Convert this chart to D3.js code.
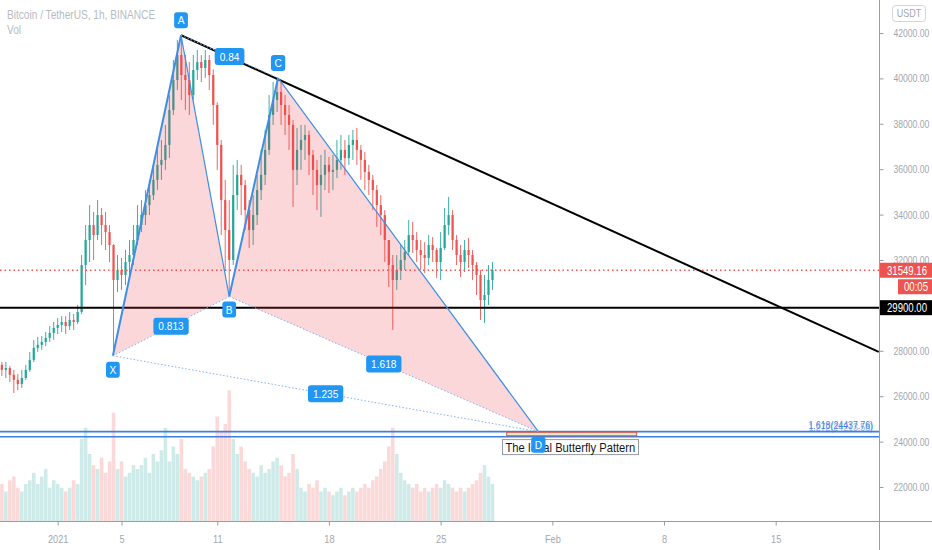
<!DOCTYPE html>
<html><head><meta charset="utf-8">
<script src="https://cdn.jsdelivr.net/npm/d3@7/dist/d3.min.js"></script>
<style>html,body{margin:0;padding:0;background:#fff;overflow:hidden}</style>
</head><body><svg id="c" width="932" height="550"></svg>
<script>
// ---------- DATA ----------
const title = "Bitcoin / TetherUS, 1h, BINANCE";
const volLabel = "Vol";
const firstCandle = "2020-12-28T06:00:00Z";
const candleHours = 6;
const candleOpen = [27510,27380,27160,27240,26940,26720,26540,26800,27160,27600,
28130,28260,28390,28570,28790,29010,29140,29270,29090,29360,
29270,29710,31780,32880,33540,33100,33980,33540,33230,32660,
31120,31560,31340,31910,32220,32880,33540,33980,34420,34860,
35530,36190,36410,37070,38610,39930,41030,40150,39930,39270,
40370,40720,40460,40810,40150,38830,37070,34640,33320,32000,
34860,35750,35300,34200,33320,33980,35080,35750,36850,38390,
39050,39400,38830,38390,37950,35970,36850,37290,37510,36630,
35970,35300,35750,36190,35880,35970,36410,36850,36490,37070,
37290,36850,36410,35880,35530,35080,34420,33980,32880,31780,
31120,31560,32000,32350,33100,32880,32440,32220,32090,32660,
32440,31910,32530,33540,33980,32880,32220,31910,32440,32220,
31780,31340,30240,30460,31120];
const candleHigh = [27600,27510,27510,27330,27160,26980,27160,27380,27950,28480,
28610,28650,28830,29090,29270,29450,29530,29530,29710,29620,
30020,32220,33540,34420,34120,34640,34290,34120,33540,32700,
32220,32090,32440,32880,33540,34420,34640,35080,35530,36190,
37070,37290,37950,39270,40810,41690,41900,41030,40720,41030,
41250,41030,41250,41030,40400,38950,37290,35530,34640,36190,
36410,36190,35530,34640,34860,35750,36850,37730,39270,39840,
40020,39840,39270,38830,38170,37820,37950,37950,37700,36850,
36410,36630,36850,36540,36630,37290,37510,37290,37510,37730,
37820,37070,36760,36190,35750,35300,34860,34200,32880,32220,
32220,32660,32880,33760,33680,33230,32880,32790,33100,33010,
32530,33230,34290,34780,34200,33100,32660,32880,32970,32440,
31910,31560,31340,31780,31910];
const candleLow = [27070,26890,26800,26630,26140,26270,26360,26720,27070,27510,
27950,28040,28210,28390,28480,28740,28830,28740,28920,28920,
29180,29620,30900,31910,32000,32880,32660,32440,31910,27780,
30590,30680,30900,31340,31780,32660,33230,33540,33980,34640,
35080,35530,35970,36490,38390,39490,39050,38610,38390,39050,
39930,39840,40020,39490,37950,35970,33100,31560,30390,31780,
34200,33980,33320,32530,32660,33540,34640,35300,36630,37950,
38520,37950,37510,36850,34340,35300,35970,36410,35750,34860,
34200,33900,35080,34950,35080,35610,35970,35750,36190,36410,
36190,35530,35080,34860,34200,33460,33100,31910,30810,28920,
30680,31120,31560,32220,32310,31910,31560,31430,31780,31910,
31210,31120,32440,33100,32440,31780,31250,31470,31650,31120,
30460,29360,29230,30020,30680];
const candleClose = [27380,27160,27240,26940,26720,26540,26800,27160,27600,28130,
28260,28390,28570,28790,29010,29140,29270,29090,29360,29270,
29710,31780,32880,33540,33100,33980,33540,33230,32660,31120,
31560,31340,31910,32220,32880,33540,33980,34420,34860,35530,
36190,36410,37070,38610,39930,41030,40150,39930,39270,40370,
40720,40460,40810,40150,38830,37070,34640,33320,32000,34860,
35750,35300,34200,33320,33980,35080,35750,36850,38390,39050,
39400,38830,38390,37950,35970,36850,37290,37510,36630,35970,
35300,35750,36190,35880,35970,36410,36850,36490,37070,37290,
36850,36410,35880,35530,35080,34420,33980,32880,31780,31120,
31560,32000,32350,33100,32880,32440,32220,32090,32660,32440,
31910,32530,33540,33980,32880,32220,31910,32440,32220,31780,
31340,30240,30460,31120,31549.16];
const candleVolume = [9,10,8,11,12,9,8,10,
11,13,10,12,14,9,11,
10,9,8,9,11,10,
22,25,18,
15,14,17,13,16,
29,
14,16,12,13,15,
14,15,17,13,18,16,19,25,
16,20,18,22,
14,13,12,11,12,13,14,
20,28,24,26,
35,
22,18,20,16,
14,13,12,15,13,
14,16,17,15,
12,13,18,14,
9,8,10,9,11,8,9,8,7,8,9,7,8,9,
8,9,10,9,11,12,
14,16,20,25,18,
13,11,10,9,10,8,9,
8,9,10,9,11,10,9,
8,9,8,9,10,11,13,15,12,10];

const yTicks = [22000,24000,26000,28000,30000,32000,34000,36000,38000,40000,42000];
const yTicksShown = [22000,24000,26000,28000,32000,34000,36000,38000,40000,42000];
const xTickDates = ["2021-01-01","2021-01-05","2021-01-11","2021-01-18","2021-01-25","2021-02-01","2021-02-08","2021-02-15"];
const xTickLabels = ["2021","5","11","18","25","Feb","8","15"];

const lastPrice = 31549.16;
const lastPriceTimer = "00:05";
const hLevel = 29900;
const trendPoints = [["2021-01-08T17:30:00Z", 41900], ["2021-02-21T11:00:00Z", 27950]];

const patternNames = ["X","A","B","C","D"];
const patternTimes = ["2021-01-04T11:00:00Z","2021-01-08T17:30:00Z","2021-01-11T18:00:00Z","2021-01-14T19:30:00Z","2021-01-31T03:00:00Z"];
const patternPrices = [27780, 41900, 30390, 40020, 24437.76];
const ratioLegs = [[0,2,"0.813"],[1,3,"0.84"],[2,4,"1.618"],[0,4,"1.235"]];

const fibPrices = [24437.76, 24213.58];
const fibLabels = ["1.618(24437.76)", "1.272(24213.58)"];

const boxTimes = ["2021-01-29T03:20:00Z", "2021-02-06T07:00:00Z"];
const boxPrices = [24410, 24260];
const noteText = "The Ideal Butterfly Pattern";
const noteTime = "2021-01-28T21:00:00Z";
const notePrice = 24000;

// ---------- SCALES ----------
const W = 932, H = 550, plotR = 879.5, plotB = 521.5;
const svg = d3.select("#c");
const x = d3.scaleUtc().domain([new Date("2021-01-01T00:00:00Z"), new Date("2021-02-15T00:00:00Z")]).range([57.7, 775.7]);
const y = d3.scaleLinear().domain([22000, 42000]).range([487, 33]);
const yv = d3.scaleLinear().domain([0, 40]).range([plotB, plotB - 150]);

const t0 = new Date(firstCandle).getTime();
const candles = candleOpen.map((o, i) => ({
  t: new Date(t0 + i * candleHours * 3600e3),
  o, h: candleHigh[i], l: candleLow[i], c: candleClose[i], v: candleVolume[i]
}));
const slot = x(new Date(t0 + candleHours * 3600e3)) - x(new Date(t0));

const FN = "'Liberation Sans',Arial,sans-serif";
// horizontally condense text around its anchor x (reference uses a narrow face)
function squeeze(sel, f) {
  sel.each(function () {
    const ax = +(this.getAttribute("x") || 0);
    d3.select(this).attr("transform", `translate(${ax * (1 - f)},0) scale(${f},1)`);
  });
  return sel;
}

svg.append("rect").attr("width", W).attr("height", H).attr("fill", "#fff");
svg.append("clipPath").attr("id", "plot").append("rect").attr("x", 0).attr("y", 0).attr("width", plotR).attr("height", plotB);
const g = svg.append("g").attr("clip-path", "url(#plot)");

const UP = "#26a69a", DN = "#ef5350";

// volume
g.append("g").selectAll("rect").data(candles).join("rect")
  .attr("x", d => x(d.t) - slot * 0.45)
  .attr("width", slot * 0.9)
  .attr("y", d => yv(d.v))
  .attr("height", d => yv(0) - yv(d.v))
  .attr("fill", d => d.c >= d.o ? UP : DN)
  .attr("opacity", 0.22);

// candles
const cg = g.append("g");
cg.selectAll("line").data(candles).join("line")
  .attr("x1", d => x(d.t)).attr("x2", d => x(d.t))
  .attr("y1", d => y(d.h)).attr("y2", d => y(d.l))
  .attr("stroke", d => d.c >= d.o ? UP : DN).attr("stroke-width", 0.9);
cg.selectAll("rect").data(candles).join("rect")
  .attr("x", d => x(d.t) - slot * 0.28)
  .attr("width", slot * 0.56)
  .attr("y", d => y(Math.max(d.o, d.c)))
  .attr("height", d => Math.max(0.8, Math.abs(y(d.o) - y(d.c))))
  .attr("fill", d => d.c >= d.o ? UP : DN);

// last price dotted line
g.append("line").attr("x1", 0).attr("x2", plotR).attr("y1", y(lastPrice)).attr("y2", y(lastPrice))
  .attr("stroke", DN).attr("stroke-width", 1.5).attr("stroke-dasharray", "1.5,3");

// horizontal level and trendline
g.append("line").attr("x1", 0).attr("x2", plotR).attr("y1", y(hLevel)).attr("y2", y(hLevel))
  .attr("stroke", "#000").attr("stroke-width", 2);
g.append("line")
  .attr("x1", x(new Date(trendPoints[0][0]))).attr("y1", y(trendPoints[0][1]))
  .attr("x2", x(new Date(trendPoints[1][0]))).attr("y2", y(trendPoints[1][1]))
  .attr("stroke", "#000").attr("stroke-width", 2);

// fib lines
const FIB = "#3f7fe0";
fibPrices.forEach(p => {
  g.append("line").attr("x1", 0).attr("x2", plotR).attr("y1", y(p)).attr("y2", y(p))
    .attr("stroke", FIB).attr("stroke-width", 1.6);
});
fibLabels.forEach((t, i) => {
  const tx = g.append("text").attr("x", 873).attr("y", y(fibPrices[0]) - 3 + i * 2.5)
    .attr("text-anchor", "end").attr("fill", FIB)
    .attr("font-family", FN).attr("font-size", 11)
    .attr("opacity", i === 0 ? 1 : 0.6)
    .text(t);
  squeeze(tx, 0.8);
});

// harmonic pattern
const P = patternTimes.map((t, i) => [x(new Date(t)), y(patternPrices[i])]);
const PFILL = "rgba(242,54,69,0.2)", PLINE = "#3d8fe6";
g.append("path").attr("d", d3.line()([P[0], P[1], P[2]]) + "Z").attr("fill", PFILL);
g.append("path").attr("d", d3.line()([P[2], P[3], P[4]]) + "Z").attr("fill", PFILL);
[[0,1,2],[1,2,1.2],[2,3,2],[3,4,1.2]].forEach(([a,b,w]) => {
  g.append("line").attr("x1", P[a][0]).attr("y1", P[a][1]).attr("x2", P[b][0]).attr("y2", P[b][1])
    .attr("stroke", PLINE).attr("stroke-width", w);
});
ratioLegs.forEach(([a,b]) => {
  g.append("line").attr("x1", P[a][0]).attr("y1", P[a][1]).attr("x2", P[b][0]).attr("y2", P[b][1])
    .attr("stroke", "#7fb3ee").attr("stroke-width", 1).attr("stroke-dasharray", "1.5,2");
});

// rectangle near D
g.append("rect")
  .attr("x", x(new Date(boxTimes[0]))).attr("y", y(boxPrices[0]))
  .attr("width", x(new Date(boxTimes[1])) - x(new Date(boxTimes[0])))
  .attr("height", y(boxPrices[1]) - y(boxPrices[0]))
  .attr("fill", "#e6ebc6").attr("stroke", "#d9534f").attr("stroke-width", 1);

// note box
const nx = x(new Date(noteTime)), ny = y(notePrice);
const ng = g.append("g");
const nt = ng.append("text").attr("x", nx + 3).attr("y", ny + 10.5)
  .attr("font-family", FN).attr("font-size", 13)
  .attr("fill", "#131722").text(noteText);
const nf = 130 / nt.node().getComputedTextLength();
squeeze(nt, nf);
ng.insert("rect", "text").attr("x", nx).attr("y", ny - 2).attr("width", 136).attr("height", 15)
  .attr("fill", "#fff").attr("stroke", "#9598a1").attr("stroke-width", 1);

// labels
const LBG = "#2196f3";
function tag(cx, cy, text, padX, h) {
  const tg = g.append("g");
  const t = tg.append("text").attr("x", cx).attr("y", cy + 4).attr("text-anchor", "middle")
    .attr("font-family", FN).attr("font-size", 11.5).attr("fill", "#fff").text(text);
  const bw = t.node().getComputedTextLength() * 0.88 + padX * 2;
  squeeze(t, 0.88);
  tg.insert("rect", "text").attr("x", cx - bw / 2).attr("y", cy - h / 2).attr("width", bw).attr("height", h)
    .attr("rx", 3).attr("fill", LBG);
}
ratioLegs.forEach(([a,b,t]) => tag((P[a][0] + P[b][0]) / 2, (P[a][1] + P[b][1]) / 2, t, 5, 17));
const labelOffsets = [14, -15, 13, -15, 13];
patternNames.forEach((n, i) => tag(P[i][0], P[i][1] + labelOffsets[i], n, 3.5, 16));

// ---------- AXES ----------
const AX = "#9a9ca3", TXT = "#a3a6af";
svg.append("line").attr("x1", plotR).attr("x2", plotR).attr("y1", 0).attr("y2", H).attr("stroke", AX);
svg.append("line").attr("x1", 0).attr("x2", W).attr("y1", plotB).attr("y2", plotB).attr("stroke", AX);

const ya = svg.append("g").attr("transform", `translate(${plotR},0)`)
  .call(d3.axisRight(y).tickValues(yTicks).tickSize(4).tickPadding(10).tickFormat(d => yTicksShown.includes(d) ? d.toFixed(2) : ""));
ya.select(".domain").remove();
ya.selectAll("line").attr("stroke", AX);
ya.selectAll("text").attr("fill", TXT).attr("font-family", FN).attr("font-size", 11);
squeeze(ya.selectAll("text"), 0.78);

const xa = svg.append("g").attr("transform", `translate(0,${plotB})`)
  .call(d3.axisBottom(x).tickValues(xTickDates.map(d => new Date(d + "T00:00:00Z"))).tickSize(4).tickPadding(9)
    .tickFormat((d, i) => xTickLabels[i]));
xa.select(".domain").remove();
xa.selectAll("line").attr("stroke", AX);
xa.selectAll("text").attr("fill", TXT).attr("font-family", FN).attr("font-size", 11.5);
squeeze(xa.selectAll("text"), 0.8);

// price tags on axis
function priceTag(yc, x0, text, bg) {
  svg.append("rect").attr("x", x0).attr("y", yc - 7.5).attr("width", W - x0).attr("height", 15).attr("fill", bg);
  const t = svg.append("text").attr("x", (x0 + W) / 2 + 1).attr("y", yc + 4.5).attr("text-anchor", "middle")
    .attr("fill", "#fff").attr("font-family", FN).attr("font-size", 12).text(text);
  squeeze(t, 0.8);
}
svg.append("line").attr("x1", plotR).attr("x2", plotR + 4).attr("y1", y(lastPrice)).attr("y2", y(lastPrice)).attr("stroke", DN);
priceTag(y(lastPrice), plotR + 0.5, lastPrice.toFixed(2), DN);
priceTag(y(lastPrice) + 16.5, 898, lastPriceTimer, DN);
priceTag(y(hLevel), plotR + 0.5, hLevel.toFixed(2), "#000");

// title
squeeze(svg.append("text").attr("x", 7).attr("y", 19).attr("fill", "#b8bbc2").attr("font-family", FN).attr("font-size", 12.5).text(title), 0.81);
squeeze(svg.append("text").attr("x", 7).attr("y", 34).attr("fill", "#b8bbc2").attr("font-family", FN).attr("font-size", 12.5).text(volLabel), 0.81);

// USDT badge
svg.append("rect").attr("x", 892.5).attr("y", 5.5).attr("width", 33).attr("height", 16).attr("rx", 3)
  .attr("fill", "#fff").attr("stroke", "#d1d4dc");
squeeze(svg.append("text").attr("x", 909).attr("y", 17.5).attr("text-anchor", "middle").attr("fill", TXT)
  .attr("font-family", FN).attr("font-size", 11).text("USDT"), 0.82);
</script></body></html>
